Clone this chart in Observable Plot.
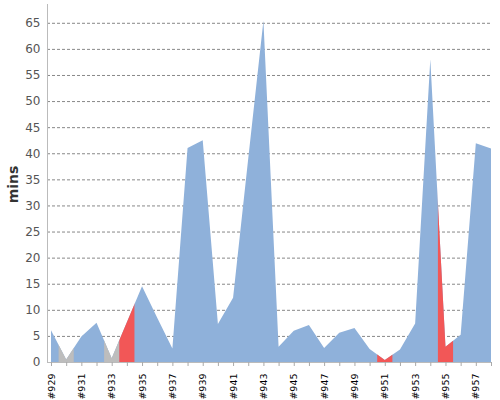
<!DOCTYPE html>
<html><head><meta charset="utf-8">
<script src="https://cdn.jsdelivr.net/npm/d3@7"></script>
<script src="https://cdn.jsdelivr.net/npm/@observablehq/plot@0.6"></script>
<style>body{margin:0;background:#fff;}</style>
</head><body><div id="chart"></div>
<script>
const builds = [929,930,931,932,933,934,935,936,937,938,939,940,941,942,943,944,945,946,947,948,949,950,951,952,953,954,955,956,957,958];
const mins = [6.1,0.5,4.9,7.5,0.7,7.6,14.5,8.5,2.6,41.0,42.5,7.3,12.3,39.0,65.4,2.9,6.0,7.1,2.7,5.6,6.5,2.5,0.4,2.4,7.4,58.0,2.9,5.2,41.9,40.9];
const status = ["ok","aborted","ok","ok","aborted","failed","ok","ok","ok","ok","ok","ok","ok","ok","ok","ok","ok","ok","ok","ok","ok","ok","failed","ok","ok","ok","failed","ok","ok","ok"];
const statusColors = {ok:"#8fb1da", aborted:"#bdbdbd", failed:"#f25757"};
const xTicks = [929,931,933,935,937,939,941,943,945,947,949,951,953,955,957];
const yTicks = [0,5,10,15,20,25,30,35,40,45,50,55,60,65];
const yMax = 68.6;

const data = builds.map((b,i)=>({build:b, mins:mins[i], status:status[i]}));
const marked = data.filter(d=>d.status!=="ok");

const plot = Plot.plot({
  width:500, height:400, marginLeft:47, marginRight:8, marginTop:4, marginBottom:38,
  style:{fontFamily:"'DejaVu Sans', sans-serif", background:"#fff", overflow:"visible"},
  x:{type:"linear", domain:[929,958], insetLeft:4, insetRight:1},
  y:{domain:[0,yMax]},
  marks:[
    Plot.gridY(yTicks.filter(v=>v>0), {stroke:"#888", strokeOpacity:1, strokeDasharray:"3,2"}),
    Plot.areaY(data,{x:"build", y:"mins", fill:statusColors.ok}),
    Plot.rect(marked,{x1:d=>d.build-0.5, x2:d=>d.build+0.5, y1:0, y2:yMax, inset:0, fill:d=>statusColors[d.status]}),
    Plot.ruleY([0],{stroke:"#bbb"}),
    Plot.frame({anchor:"left", stroke:"#bbb"}),
    Plot.axisY(yTicks,{tickSize:0, tickPadding:7, fontSize:12, fill:"#555", label:null}),
    Plot.text(["mins"],{frameAnchor:"left", textAnchor:"middle", dx:-34, dy:1, rotate:-90, text:d=>d, fontSize:14, fontWeight:"bold", fontFamily:"'DejaVu Sans', sans-serif", fill:"#333"}),
    Plot.axisX(builds,{tickSize:4, stroke:"#aaa", tickFormat:()=>"", label:null}),
    Plot.axisX(xTicks,{tickSize:0, tickPadding:11, tickRotate:-90, tickFormat:d=>"#"+d, fontSize:9.5, fontFamily:"'DejaVu Sans', sans-serif", fill:"#000", label:null})
  ]
});

const svg = d3.select(plot);
const areaPath = svg.select('g[aria-label="area"] path');
const defs = svg.insert("defs", ":first-child");
defs.append("clipPath").attr("id","areaClip").append("path").attr("d", areaPath.attr("d"));
svg.select('g[aria-label="rect"]').attr("clip-path","url(#areaClip)");

document.getElementById("chart").appendChild(plot);
</script>
</body></html>
